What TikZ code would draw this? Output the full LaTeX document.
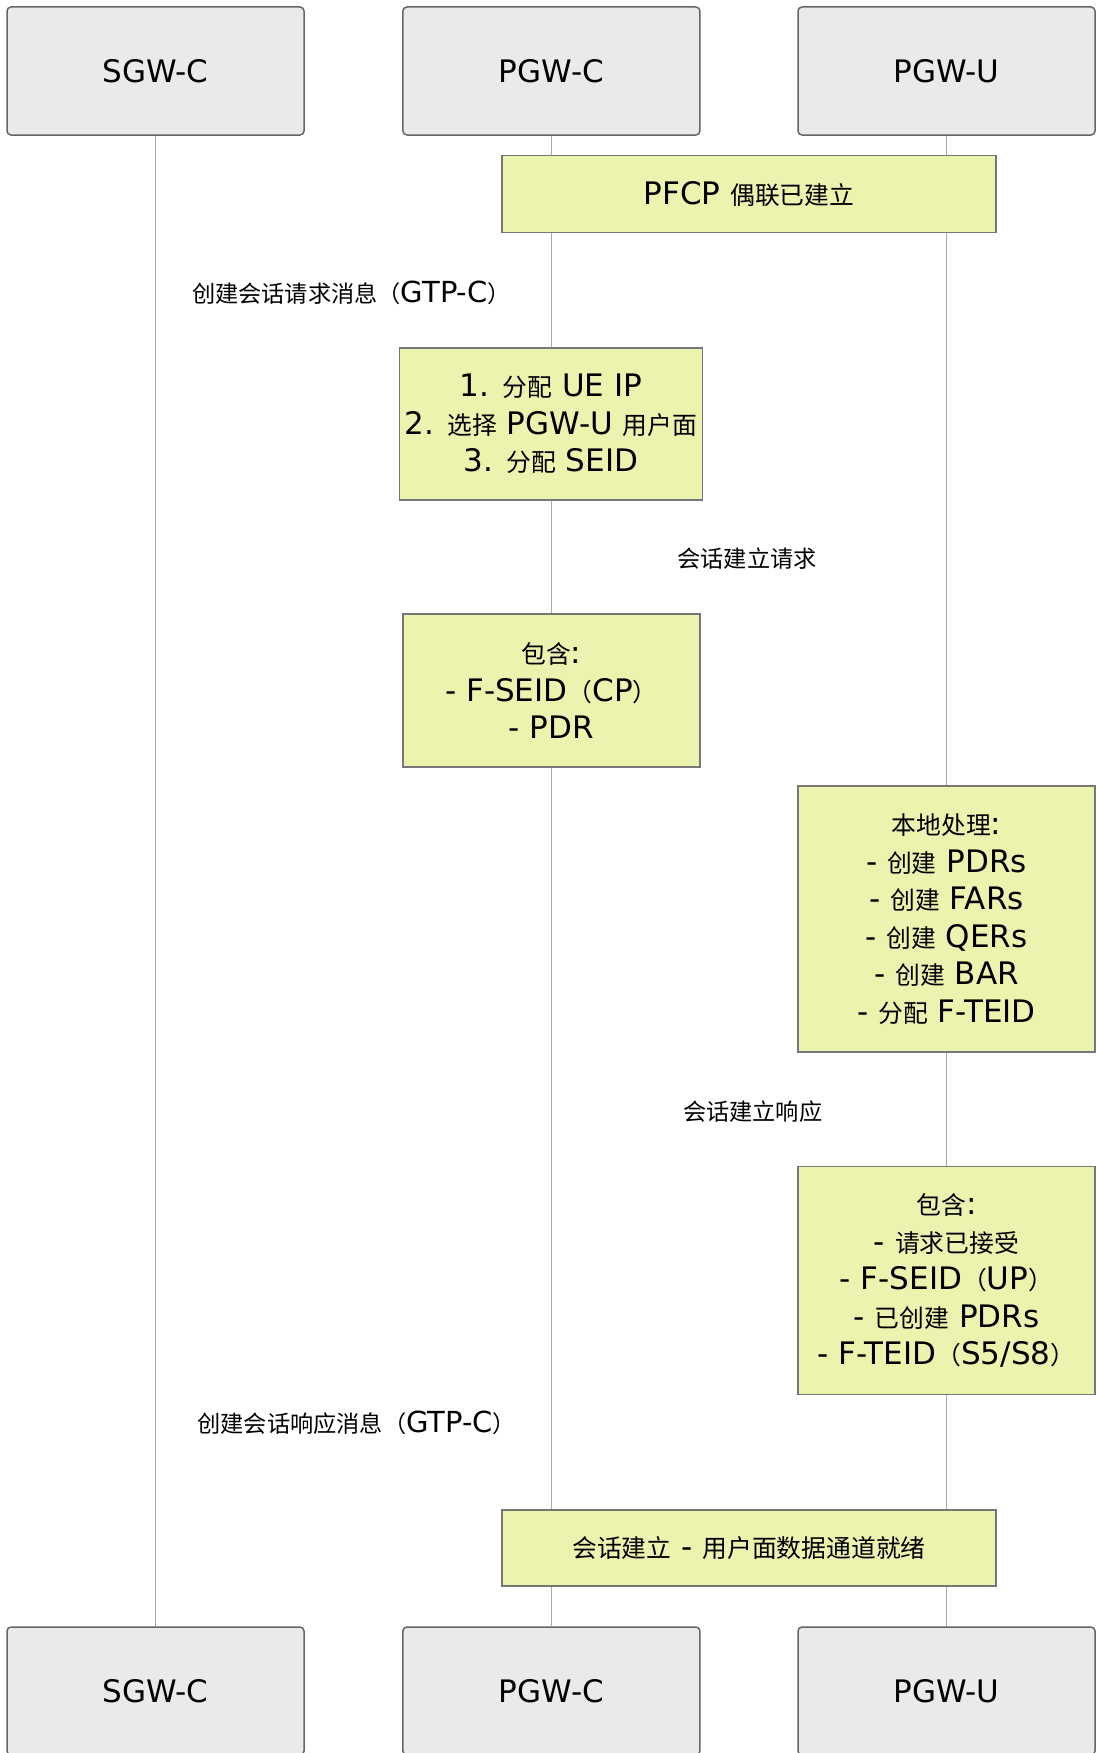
\documentclass[tikz,border=0pt]{standalone}
\usepackage{fontspec}
\setmainfont{DejaVu Sans}
\newfontfamily\cjk[Scale=0.8]{Noto Sans CJK SC}
\newcommand{\zh}[1]{{\cjk #1}}
\definecolor{actorfill}{HTML}{EAEAEA}
\definecolor{actorline}{HTML}{666666}
\definecolor{notefill}{HTML}{ECF3AF}
\definecolor{noteline}{HTML}{777777}
\definecolor{lifecol}{HTML}{A8A8A8}
\begin{document}
\begin{tikzpicture}[x=1pt,y=-1pt,
  actor/.style={draw=actorline, fill=actorfill, rounded corners=4pt, line width=1.5pt,
    minimum width=297pt, minimum height=128pt, inner sep=0pt,
    font=\fontsize{31}{37}\selectfont},
  note/.style={draw=noteline, fill=notefill, line width=1.8pt, align=center,
    inner sep=3pt, font=\fontsize{31}{37.5}\selectfont},
  msg/.style={inner sep=0pt, font=\fontsize{29}{35}\selectfont},
  life/.style={draw=lifecol, line width=1pt}]
\useasboundingbox (0,0) rectangle (1096,1753);
% actors
\node[actor] (sgwT) at (155.5,71) {SGW-C};
\node[actor] (pgwcT) at (551.4,71) {PGW-C};
\node[actor] (pgwuT) at (946.5,71) {PGW-U};
\node[actor] (sgwB) at (155.5,1691) {SGW-C};
\node[actor] (pgwcB) at (551.4,1691) {PGW-C};
\node[actor] (pgwuB) at (946.5,1691) {PGW-U};
% lifelines
\draw[life] (sgwT.south) -- (sgwB.north);
\draw[life] (pgwcT.south) -- (pgwcB.north);
\draw[life] (pgwuT.south) -- (pgwuB.north);
% notes
\node[note, minimum width=494pt, minimum height=77pt] (n1) at (749,194) {PFCP \zh{偶联已建立}};
\node[note, minimum width=303pt, minimum height=152pt] (n2) at (551,424)
  {1. \zh{分配} UE IP\\2. \zh{选择} PGW-U \zh{用户面}\\3. \zh{分配} SEID};
\node[note, minimum width=297pt, minimum height=153pt] (n3) at (551.4,690.6)
  {\zh{包含}:\\- F-SEID\zh{（}CP\zh{）}\\- PDR};
\node[note, minimum width=297pt, minimum height=266pt] (n4) at (946.5,919)
  {\zh{本地处理}:\\- \zh{创建} PDRs\\- \zh{创建} FARs\\- \zh{创建} QERs\\- \zh{创建} BAR\\- \zh{分配} F-TEID};
\node[note, minimum width=297pt, minimum height=228pt] (n5) at (946.5,1280.5)
  {\zh{包含}:\\- \zh{请求已接受}\\- F-SEID\zh{（}UP\zh{）}\\- \zh{已创建} PDRs\\- F-TEID\zh{（}S5/S8\zh{）}};
\node[note, minimum width=494pt, minimum height=76pt] (n6) at (749,1548)
  {\zh{会话建立} - \zh{用户面数据通道就绪}};
% message labels
\node[msg] (m1) at (351.5,293) {\zh{创建会话请求消息（}GTP-C\zh{）}};
\node[msg] (m2) at (747,559) {\zh{会话建立请求}};
\node[msg] (m3) at (752.7,1111.7) {\zh{会话建立响应}};
\node[msg] (m4) at (356.8,1422.6) {\zh{创建会话响应消息（}GTP-C\zh{）}};
\end{tikzpicture}
\end{document}
